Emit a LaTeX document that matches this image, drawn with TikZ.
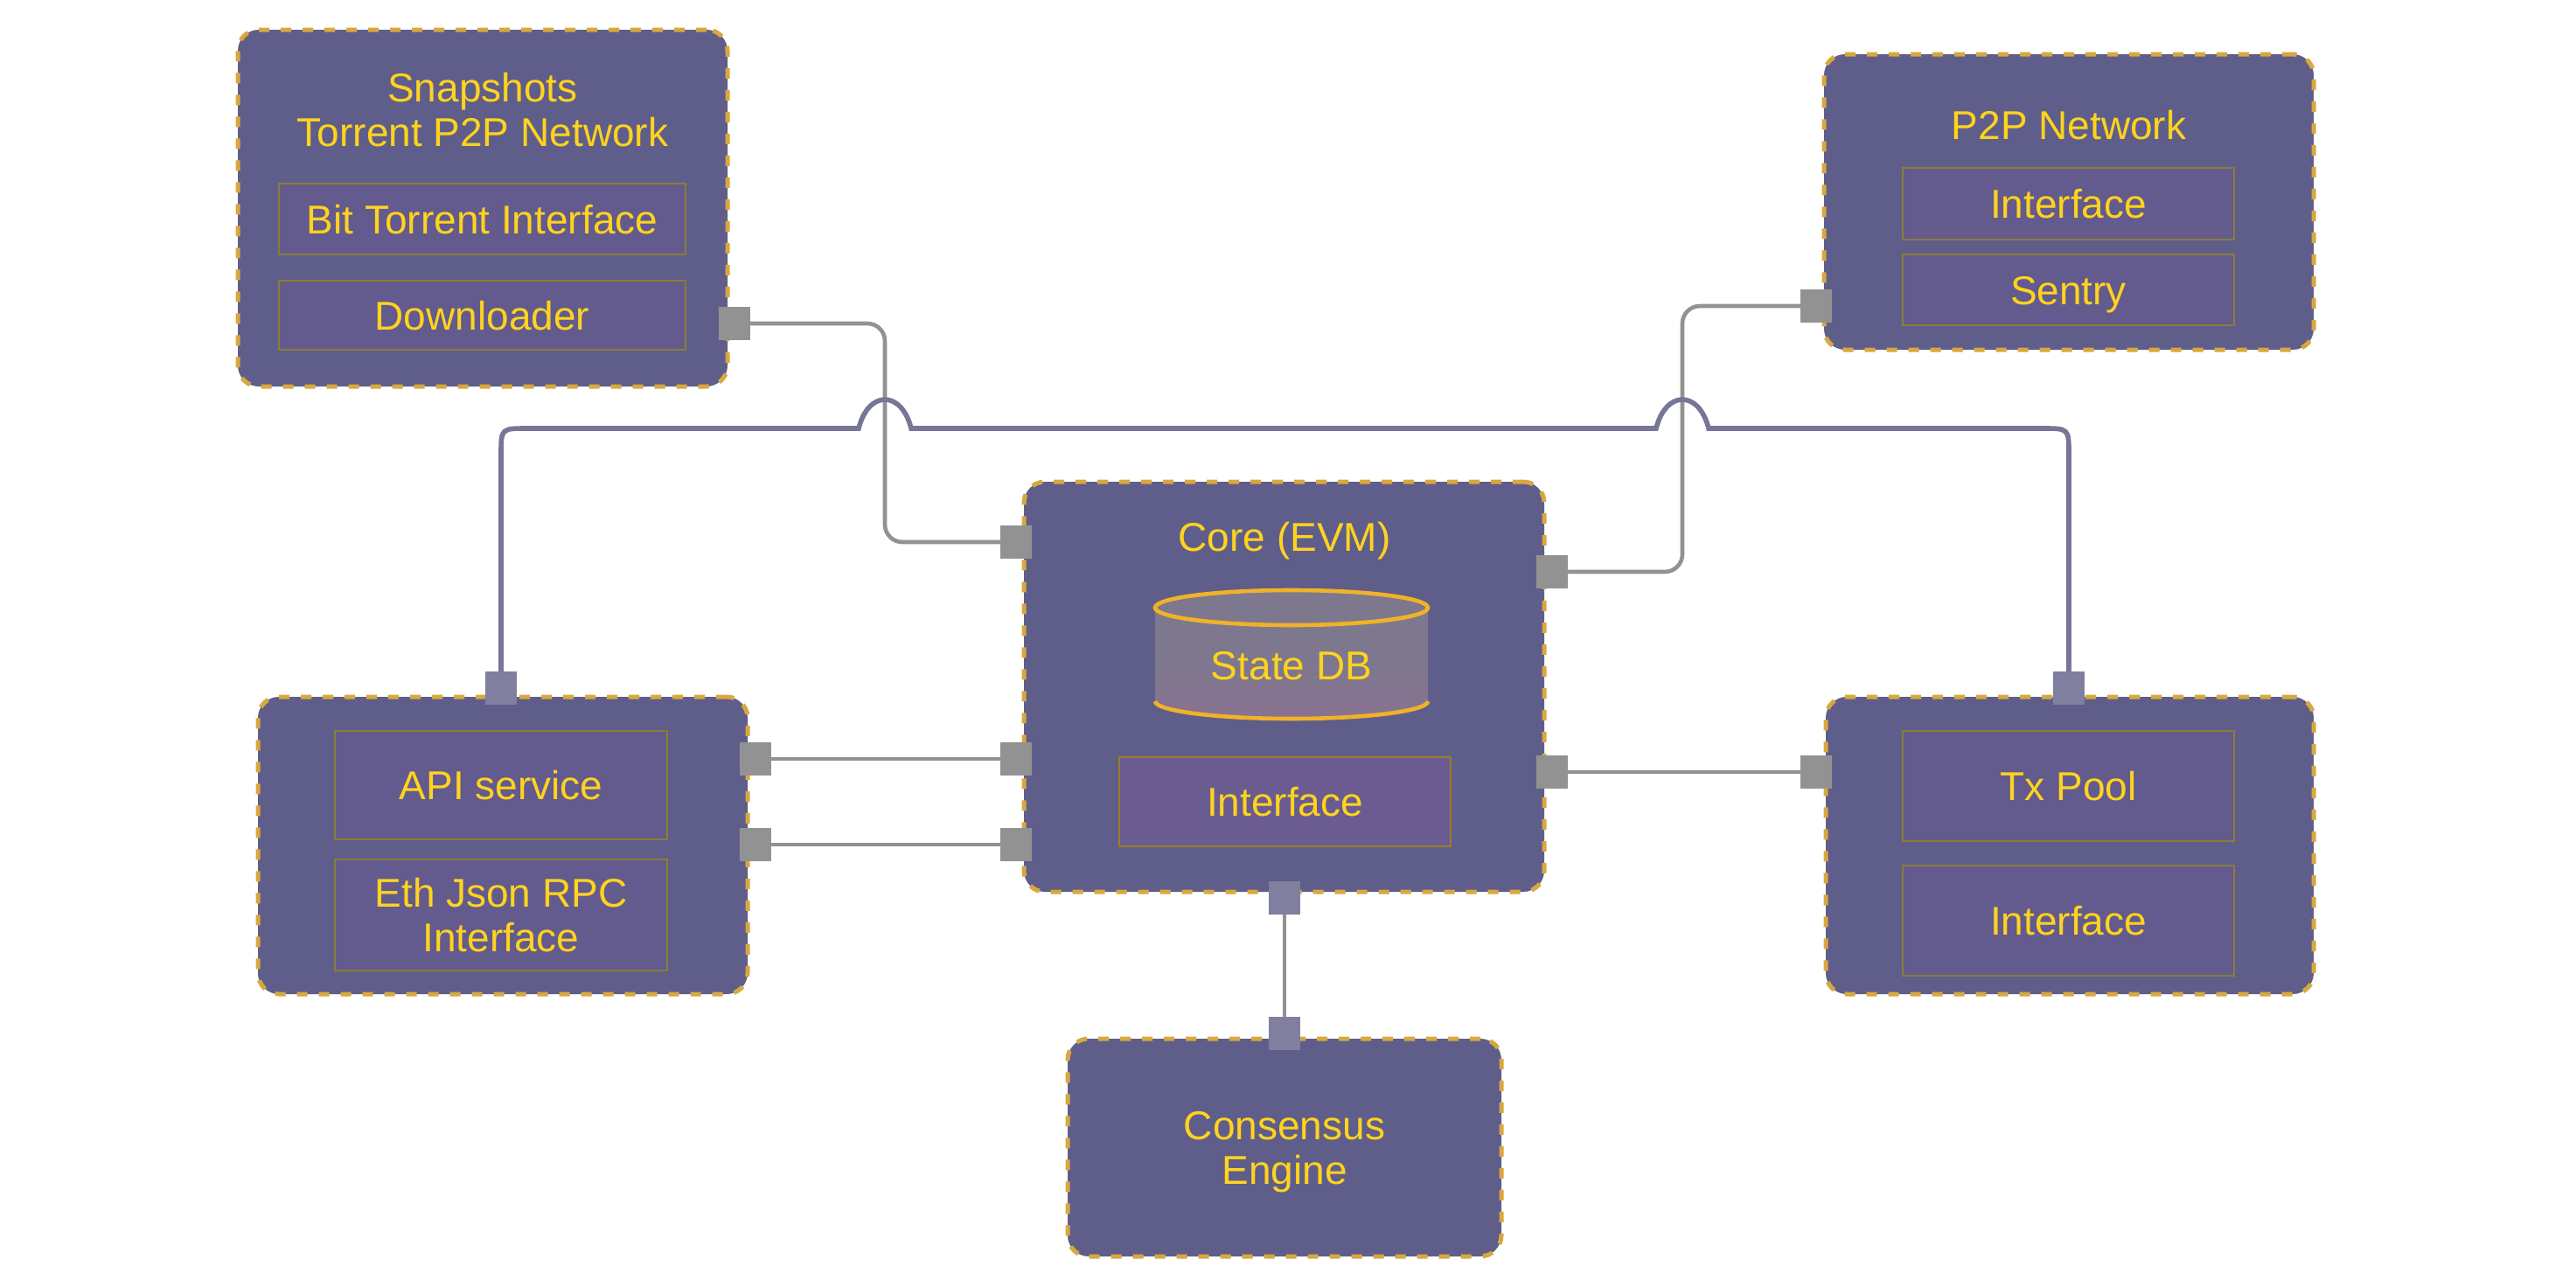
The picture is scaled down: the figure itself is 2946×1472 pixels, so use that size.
\documentclass[tikz,border=0pt]{standalone}
\usepackage{fontspec}
\setmainfont{Liberation Sans}

\pgfdeclarelayer{paper}
\pgfdeclarelayer{wires}
\pgfsetlayers{paper,wires,main}

\definecolor{boxfill}{RGB}{95,94,138}
\definecolor{boxedge}{RGB}{216,168,62}
\definecolor{txt}{RGB}{255,211,30}
\definecolor{innerfill}{RGB}{99,90,142}
\definecolor{inneredge}{RGB}{138,125,55}
\definecolor{corefill}{RGB}{106,92,144}
\definecolor{coreedge}{RGB}{154,125,40}
\definecolor{portgray}{RGB}{146,146,146}
\definecolor{portpurple}{RGB}{128,127,160}
\definecolor{linegray}{RGB}{146,146,146}
\definecolor{linepurple}{RGB}{118,118,150}
\definecolor{cyltop}{RGB}{126,120,143}
\definecolor{cylbot}{RGB}{137,114,144}
\definecolor{cyledge}{RGB}{240,178,40}

\tikzset{
  comp/.style={draw=boxedge, fill=boxfill, line width=2.5pt, dash pattern=on 6pt off 6.5pt, rounded corners=12pt, inner sep=0pt},
  lblbase/.style={text=txt, font=\fontsize{23}{25.5}\selectfont, align=center, inner sep=0pt},
  lbl/.style={lblbase, text height=16.5pt, text depth=0pt},
  sub/.style={lbl, draw=inneredge, fill=innerfill, line width=1.3pt},
  subtwo/.style={lblbase, draw=inneredge, fill=innerfill, line width=1.3pt},
  port/.style={rectangle, fill=portgray, minimum width=18pt, minimum height=19pt, inner sep=0pt},
  pport/.style={port, fill=portpurple},
  gline/.style={draw=linegray, line width=2.3pt, rounded corners=10pt},
  pline/.style={draw=linepurple, line width=2.8pt},
}

\begin{document}
\begin{tikzpicture}[x=0.5pt, y=-0.5pt]
\begin{pgfonlayer}{paper}
\fill[white] (0,0) rectangle (2946,1472);
\end{pgfonlayer}
\useasboundingbox (0,0) rectangle (2946,1472);

% components
\node[comp, minimum width=280pt, minimum height=204pt] (snap) at (552,238) {};
\node[comp, minimum width=280pt, minimum height=169pt] (p2p) at (2366,231) {};
\node[comp, minimum width=297.5pt, minimum height=234.5pt] (core) at (1468.5,785.5) {};
\node[comp, minimum width=280pt, minimum height=170pt] (api) at (575,967) {};
\node[comp, minimum width=279pt, minimum height=170pt] (tx) at (2367,967) {};
\node[comp, minimum width=248pt, minimum height=124.5pt] (cons) at (1469,1312.5) {};

% titles
\node[lblbase] (snapT) at (552,126) {Snapshots\\Torrent P2P Network};
\node[lbl] (p2pT) at (2366,143) {P2P Network};
\node[lbl] (coreT) at (1469,614) {Core (EVM)};
\node[lblbase] (consT) at (1469,1318) {Consensus\\Engine};

% sub boxes
\node[sub, minimum width=232.5pt, minimum height=40.5pt] (bti) at (551.5,250.5) {Bit Torrent Interface};
\node[sub, minimum width=232.5pt, minimum height=39.5pt] (dl) at (551.5,360.5) {Downloader};
\node[sub, minimum width=189.5pt, minimum height=41pt] (p2pI) at (2365.5,233) {Interface};
\node[sub, minimum width=189.5pt, minimum height=40.5pt] (sentry) at (2365.5,331.5) {Sentry};
\node[sub, draw=coreedge, fill=corefill, minimum width=189.5pt, minimum height=51pt] (coreI) at (1469.5,917) {Interface};
\node[sub, minimum width=190pt, minimum height=62pt] (apiS) at (573,898) {API service};
\node[subtwo, minimum width=190pt, minimum height=63.5pt] (rpc) at (573,1046.5) {Eth Json RPC\\Interface};
\node[sub, minimum width=189.5pt, minimum height=63pt] (txp) at (2365.5,899) {Tx Pool};
\node[sub, minimum width=189.5pt, minimum height=63pt] (txI) at (2365.5,1053) {Interface};

% State DB cylinder
\coordinate (cylT) at (1477,695);
\coordinate (cylB) at (1477,802);
\path[top color=cyltop, bottom color=cylbot, middle color=cyltop]
  (1321,695) -- (1321,802) arc[start angle=180, end angle=360, x radius=78pt, y radius=10pt] -- (1633,695) -- cycle;
\fill[cyltop] (cylT) ellipse[x radius=78pt, y radius=10pt];
\draw[cyledge, line width=2.3pt] (cylT) ellipse[x radius=78pt, y radius=10pt];
\draw[cyledge, line width=2.3pt] (1321,802) arc[start angle=180, end angle=360, x radius=78pt, y radius=10pt];
\node[lbl] (sdb) at (1477,761) {State DB};

% ports
\node[port] (pSnap) at (840,370) {};
\node[port] (pP2P) at (2077,350) {};
\node[port] (pCL1) at (1162,620) {};
\node[port] (pCL2) at (1162,868) {};
\node[port] (pCL3) at (1162,966) {};
\node[port] (pCR1) at (1775,654) {};
\node[port] (pCR2) at (1775,883) {};
\node[pport] (pCB) at (1469,1027) {};
\node[pport] (pConsT) at (1469,1182) {};
\node[pport] (pApiT) at (573,787) {};
\node[port] (pAR1) at (864,868) {};
\node[port] (pAR2) at (864,966) {};
\node[pport] (pTxT) at (2366,787) {};
\node[port] (pTxL) at (2077,883) {};

% connectors
\begin{pgfonlayer}{wires}
\draw[gline] (pSnap.center) -- (1012,370) -- (1012,620) -- (pCL1.center);
\draw[gline] (pP2P.center) -- (1924,350) -- (1924,654) -- (pCR1.center);
\draw[gline] (pAR1.center) -- (pCL2.center);
\draw[gline] (pAR2.center) -- (pCL3.center);
\draw[gline] (pCR2.center) -- (pTxL.center);
\draw[gline] (pCB.center) -- (pConsT.center);
\draw[pline] (pApiT.center) -- (573,520) .. controls (573,490) .. (603,490)
  -- (982,490) .. controls (993,446) and (1031,446) .. (1042,490)
  -- (1894,490) .. controls (1905,446) and (1943,446) .. (1954,490)
  -- (2336,490) .. controls (2366,490) .. (2366,520) -- (pTxT.center);
\end{pgfonlayer}
\end{tikzpicture}
\end{document}
